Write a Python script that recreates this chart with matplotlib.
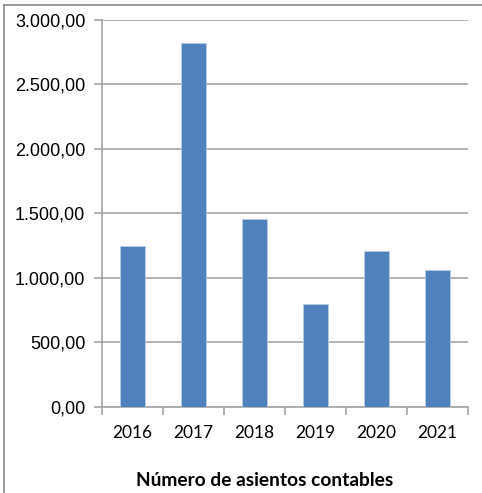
import matplotlib
matplotlib.use("Agg")
import matplotlib.pyplot as plt
from matplotlib.lines import Line2D
from matplotlib.ticker import FuncFormatter, FixedLocator
import numpy as np

years = ["2016", "2017", "2018", "2019", "2020", "2021"]
values = [1250, 2820, 1460, 800, 1207, 1060]
y_ticks = [0, 500, 1000, 1500, 2000, 2500, 3000]
x_label = "Número de asientos contables"

bar_color = "#4F81BD"
grid_color = "#A6A6A6"

fig = plt.figure(figsize=(4.82, 4.93), dpi=100)
ax = fig.add_axes([0.2116, 0.175, 0.971 - 0.2116, 0.9594 - 0.175])

x = np.arange(len(years))
ax.bar(x, values, width=0.4, color=bar_color, edgecolor="#B9CDE5", linewidth=0.6, zorder=3)

ax.set_xlim(-0.5, len(years) - 0.5)
ax.set_ylim(0, 3000)
ax.set_yticks(y_ticks)

def fmt(v, pos):
    s = f"{v:,.2f}"
    return s.replace(",", "X").replace(".", ",").replace("X", ".")

ax.yaxis.set_major_formatter(FuncFormatter(fmt))
ax.yaxis.grid(True, color=grid_color, linewidth=1.2, zorder=0)
ax.set_axisbelow(True)

# category labels centered, ticks at boundaries
ax.set_xticks(x)
ax.set_xticklabels(years, fontfamily="Lato", fontsize=12.5)
ax.xaxis.set_minor_locator(FixedLocator(np.arange(-0.5, len(years), 1.0)))
ax.tick_params(axis="x", which="major", length=0, pad=13)
ax.tick_params(axis="x", which="minor", length=6, width=1.2, color=grid_color, direction="out")
ax.tick_params(axis="y", length=6, width=1.2, color=grid_color, direction="out", pad=6)
for lbl in ax.get_yticklabels():
    lbl.set_fontfamily("Liberation Sans")
    lbl.set_fontsize(13)

for side in ["top", "right"]:
    ax.spines[side].set_visible(False)
for side in ["left", "bottom"]:
    ax.spines[side].set_color(grid_color)
    ax.spines[side].set_linewidth(1.2)

ax.set_xlabel(x_label, fontfamily="Lato", fontweight="bold", fontsize=13.8)
ax.xaxis.set_label_coords(0.443, -0.17)

# outer chart frame (partially visible)
frame_color = "#8C8C8C"
fig.add_artist(Line2D([3.5 / 482, 3.5 / 482], [0, 1 - 4.5 / 493], transform=fig.transFigure,
                      color=frame_color, linewidth=1.2))
fig.add_artist(Line2D([3.5 / 482, 1], [1 - 4.5 / 493, 1 - 4.5 / 493], transform=fig.transFigure,
                      color=frame_color, linewidth=1.2))

fig.savefig("out.png", dpi=100)
